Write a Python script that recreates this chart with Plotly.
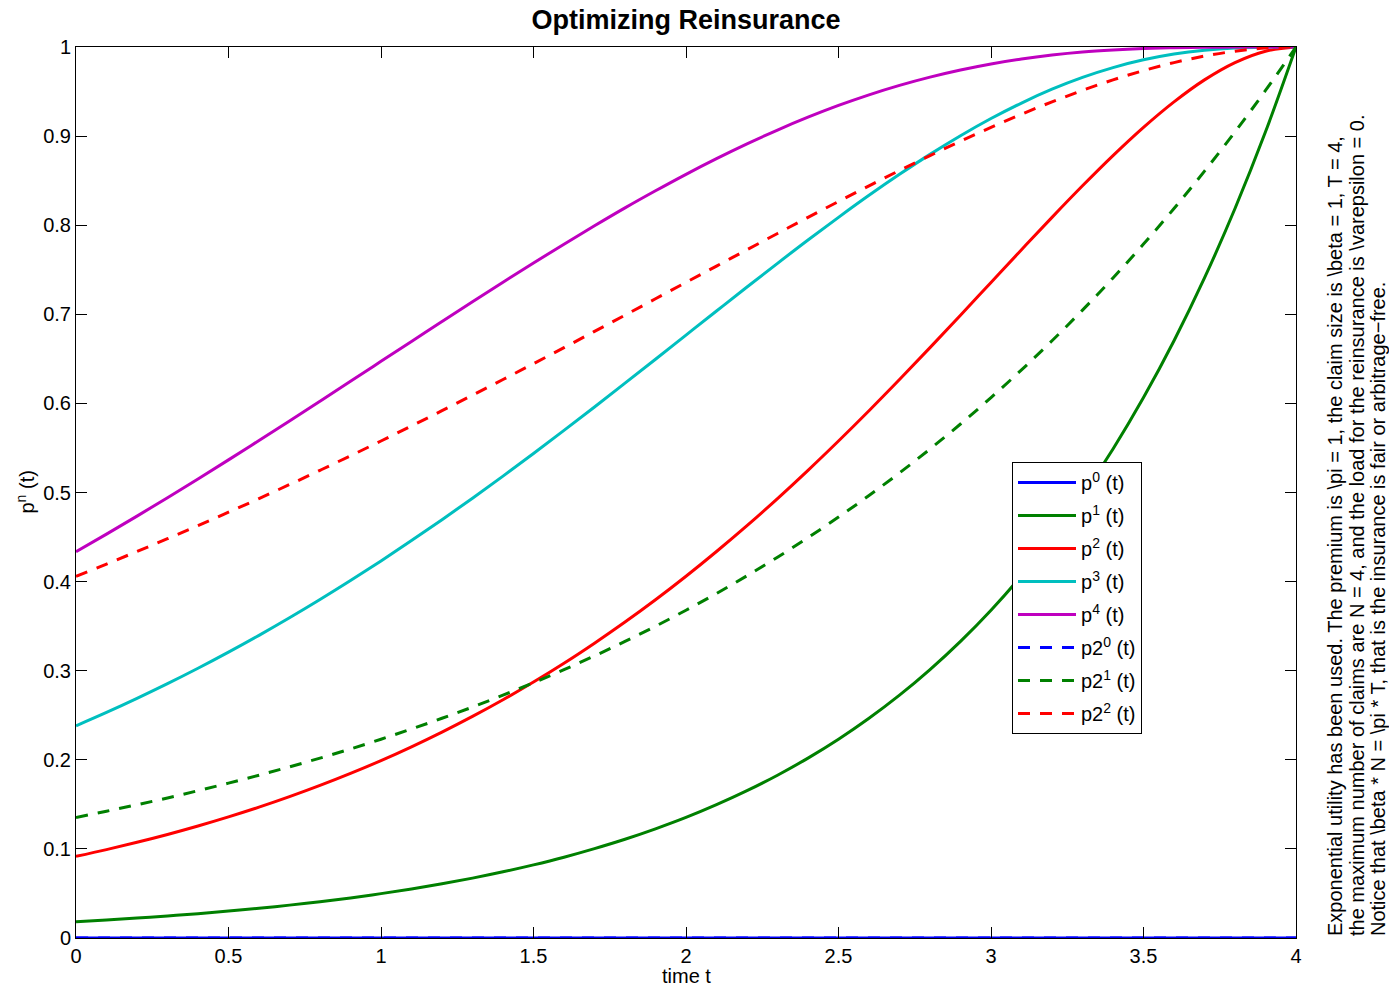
import plotly.graph_objects as go

t = [0.0, 0.1, 0.2, 0.3, 0.4, 0.5, 0.6, 0.7, 0.8, 0.9, 1.0,
     1.1, 1.2, 1.3, 1.4, 1.5, 1.6, 1.7, 1.8, 1.9, 2.0,
     2.1, 2.2, 2.3, 2.4, 2.5, 2.6, 2.7, 2.8, 2.9, 3.0,
     3.1, 3.2, 3.3, 3.4, 3.5, 3.6, 3.7, 3.8, 3.9, 4.0]

p0 = [0.0] * 41
p1 = [0.0183, 0.0202, 0.0224, 0.0247, 0.0273, 0.0302, 0.0334, 0.0369, 0.0408, 0.0450, 0.0498,
      0.0550, 0.0608, 0.0672, 0.0743, 0.0821, 0.0907, 0.1003, 0.1108, 0.1225, 0.1353,
      0.1496, 0.1653, 0.1827, 0.2019, 0.2231, 0.2466, 0.2725, 0.3012, 0.3329, 0.3679,
      0.4066, 0.4493, 0.4966, 0.5488, 0.6065, 0.6703, 0.7408, 0.8187, 0.9048, 1.0]
p2 = [0.0916, 0.0992, 0.1074, 0.1162, 0.1257, 0.1359, 0.1468, 0.1586, 0.1712, 0.1847, 0.1991,
      0.2146, 0.2311, 0.2487, 0.2674, 0.2873, 0.3084, 0.3309, 0.3546, 0.3796, 0.4060,
      0.4338, 0.4628, 0.4932, 0.5249, 0.5578, 0.5918, 0.6268, 0.6626, 0.6990, 0.7358,
      0.7725, 0.8088, 0.8442, 0.8781, 0.9098, 0.9384, 0.9631, 0.9825, 0.9953, 1.0]
p3 = [0.2381, 0.2531, 0.2689, 0.2854, 0.3027, 0.3208, 0.3397, 0.3594, 0.3799, 0.4012, 0.4232,
      0.4460, 0.4695, 0.4936, 0.5184, 0.5438, 0.5697, 0.5960, 0.6227, 0.6496, 0.6767,
      0.7037, 0.7306, 0.7572, 0.7834, 0.8088, 0.8335, 0.8571, 0.8795, 0.9004, 0.9197,
      0.9371, 0.9526, 0.9659, 0.9769, 0.9856, 0.9921, 0.9964, 0.9989, 0.9998, 1.0]
p4 = [0.4335, 0.4533, 0.4735, 0.4942, 0.5152, 0.5366, 0.5584, 0.5803, 0.6025, 0.6248, 0.6472,
      0.6696, 0.6919, 0.7141, 0.7360, 0.7576, 0.7787, 0.7993, 0.8194, 0.8386, 0.8571,
      0.8747, 0.8913, 0.9068, 0.9212, 0.9344, 0.9463, 0.9569, 0.9662, 0.9742, 0.9810,
      0.9865, 0.9909, 0.9943, 0.9966, 0.9982, 0.9992, 0.9997, 0.9999, 1.0, 1.0]
p2_0 = [0.0] * 41
p2_1 = [0.1353, 0.1423, 0.1496, 0.1572, 0.1653, 0.1738, 0.1827, 0.1921, 0.2019, 0.2122, 0.2231,
        0.2346, 0.2466, 0.2592, 0.2725, 0.2865, 0.3012, 0.3166, 0.3329, 0.3499, 0.3679,
        0.3867, 0.4066, 0.4274, 0.4493, 0.4724, 0.4966, 0.5220, 0.5488, 0.5769, 0.6065,
        0.6376, 0.6703, 0.7047, 0.7408, 0.7788, 0.8187, 0.8607, 0.9048, 0.9512, 1.0]
p2_2 = [0.4060, 0.4197, 0.4338, 0.4481, 0.4628, 0.4779, 0.4932, 0.5089, 0.5249, 0.5412, 0.5578,
        0.5747, 0.5918, 0.6092, 0.6268, 0.6446, 0.6626, 0.6808, 0.6990, 0.7174, 0.7358,
        0.7541, 0.7725, 0.7907, 0.8088, 0.8266, 0.8442, 0.8614, 0.8781, 0.8943, 0.9098,
        0.9246, 0.9384, 0.9513, 0.9631, 0.9735, 0.9825, 0.9898, 0.9953, 0.9988, 1.0]

x_ticks = [0, 0.5, 1, 1.5, 2, 2.5, 3, 3.5, 4]
x_tick_labels = ["0", "0.5", "1", "1.5", "2", "2.5", "3", "3.5", "4"]
y_ticks = [0, 0.1, 0.2, 0.3, 0.4, 0.5, 0.6, 0.7, 0.8, 0.9, 1]
y_tick_labels = ["0", "0.1", "0.2", "0.3", "0.4", "0.5", "0.6", "0.7", "0.8", "0.9", "1"]

DASH = "12px,10px"
series = [
    ("p<sup>0</sup> (t)", p0, "#0000ff", "solid"),
    ("p<sup>1</sup> (t)", p1, "#008000", "solid"),
    ("p<sup>2</sup> (t)", p2, "#ff0000", "solid"),
    ("p<sup>3</sup> (t)", p3, "#00bfbf", "solid"),
    ("p<sup>4</sup> (t)", p4, "#bf00bf", "solid"),
    ("p2<sup>0</sup> (t)", p2_0, "#0000ff", DASH),
    ("p2<sup>1</sup> (t)", p2_1, "#008000", DASH),
    ("p2<sup>2</sup> (t)", p2_2, "#ff0000", DASH),
]

notes = [
    "Exponential utility has been used. The premium is \\pi = 1, the claim size is \\beta = 1, T = 4,",
    "the maximum number of claims are N = 4, and the load for the reinsurance is \\varepsilon = 0.",
    "Notice that \\beta * N = \\pi * T, that is the insurance is fair or arbitrage\u2212free.",
]

FONT = "Liberation Sans, Arial, Helvetica, sans-serif"
FS = 20

fig = go.Figure()
for i, (name, vals, color, dash) in enumerate(series):
    fig.add_trace(go.Scatter(
        x=t, y=vals, mode="lines", name=name,
        line=dict(color=color, width=3, dash=dash, shape="spline", smoothing=1.0),
        legendgroup=f"g{i}",
    ))

W, H = 1389, 987
L, R, T, B = 76, 93, 47, 49
pw, ph = W - L - R, H - T - B

def px_x(px):
    return (px - L) / pw

def px_y(py):
    return (H - B - py) / ph

annotations = [
    dict(text="time t", x=0.5, y=px_y(976), xref="paper", yref="paper",
         showarrow=False, xanchor="center", yanchor="middle",
         font=dict(size=FS, color="black", family=FONT)),
    dict(text="p<sup>n</sup> (t)", x=px_x(25), y=0.5, xref="paper", yref="paper",
         showarrow=False, xanchor="center", yanchor="middle", textangle=-90,
         font=dict(size=FS, color="black", family=FONT)),
]
for xp, line in zip([1335, 1357, 1378], notes):
    annotations.append(dict(
        text=line, x=px_x(xp), y=0, xref="paper", yref="paper",
        showarrow=False, xanchor="center", yanchor="bottom", textangle=-90,
        font=dict(size=FS, color="black", family=FONT)))

fig.update_layout(
    width=W, height=H,
    margin=dict(l=L, r=R, t=T, b=B),
    paper_bgcolor="white", plot_bgcolor="white",
    font=dict(family=FONT, size=FS, color="black"),
    title=dict(text="<b>Optimizing Reinsurance</b>", x=0.5, xref="paper",
               y=1 - 20 / H, yref="container", xanchor="center", yanchor="middle",
               font=dict(size=27, color="black", family=FONT)),
    showlegend=True,
    legend=dict(x=px_x(1012), y=px_y(462), xanchor="left", yanchor="top",
                bordercolor="black", borderwidth=1, bgcolor="white",
                itemwidth=58, tracegroupgap=4,
                font=dict(size=FS, color="black", family=FONT)),
    annotations=annotations,
)
fig.update_xaxes(range=[0, 4], tickvals=x_ticks, ticktext=x_tick_labels,
                 ticks="inside", ticklen=11, tickwidth=1, tickcolor="black",
                 showline=True, linecolor="black", linewidth=1, mirror="allticks",
                 showgrid=False, zeroline=False,
                 tickfont=dict(size=FS, color="black", family=FONT))
fig.update_yaxes(range=[0, 1], tickvals=y_ticks, ticktext=y_tick_labels,
                 ticks="inside", ticklen=11, tickwidth=1, tickcolor="black",
                 showline=True, linecolor="black", linewidth=1, mirror="allticks",
                 showgrid=False, zeroline=False,
                 tickfont=dict(size=FS, color="black", family=FONT))

fig.write_html("out.html",
               config={"displayModeBar": False},
               post_script="document.body.style.margin='0';document.body.style.overflow='hidden';")
